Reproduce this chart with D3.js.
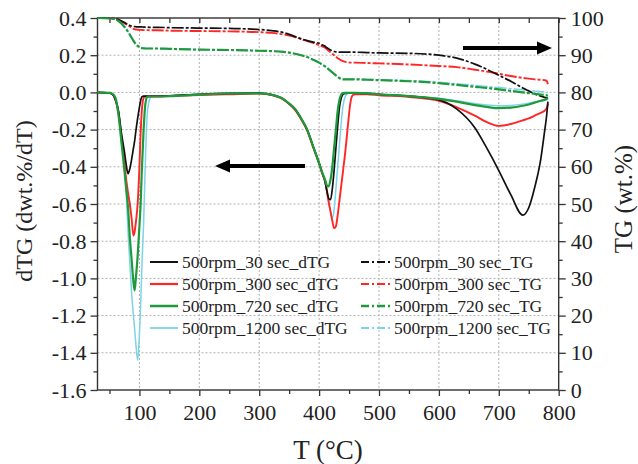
<!DOCTYPE html>
<html><head><meta charset="utf-8">
<script src="https://cdn.jsdelivr.net/npm/d3@7/dist/d3.min.js"></script>
<style>
body{margin:0;background:#fff;}
svg{display:block;font-family:"Liberation Serif","Times New Roman",serif;}
</style></head>
<body><svg id="c" width="638" height="464"></svg>
<script>
// Temperature grid (°C)
const T = [30,50,55,60,65,70,75,78,81,84,87,90,92,94,97,100,102,104,107,110,113,116,120,125,130,
  150,200,250,300,
  320,340,350,360,370,380,390,400,405,410,
  413,416,419,422,425,428,431,434,437,440,444,448,452,456,460,
  480,500,550,600,630,660,680,700,720,740,750,760,770,776,780,782];

// dTG series (dwt.%/dT)
const dtg30 = [0,-0.004,-0.01,-0.04,-0.1,-0.22,-0.32,-0.39,-0.437,-0.41,-0.36,-0.3,-0.26,-0.21,-0.14,-0.08,-0.045,-0.024,-0.02,-0.02,-0.02,-0.02,-0.02,-0.02,-0.02,
  -0.018,-0.01,-0.005,-0.004,
  -0.012,-0.035,-0.06,-0.09,-0.14,-0.2,-0.29,-0.38,-0.43,-0.48,
  -0.53,-0.57,-0.577,-0.52,-0.42,-0.3,-0.18,-0.08,-0.03,-0.01,-0.005,-0.004,-0.004,-0.004,-0.004,
  -0.005,-0.01,-0.02,-0.04,-0.09,-0.19,-0.3,-0.42,-0.55,-0.66,-0.62,-0.51,-0.36,-0.22,-0.12,-0.05];
const dtg300 = [0,-0.004,-0.01,-0.04,-0.11,-0.24,-0.38,-0.47,-0.54,-0.6,-0.68,-0.77,-0.75,-0.7,-0.6,-0.4,-0.22,-0.1,-0.03,-0.022,-0.022,-0.022,-0.022,-0.022,-0.022,
  -0.02,-0.014,-0.01,-0.006,
  -0.014,-0.038,-0.063,-0.095,-0.145,-0.205,-0.295,-0.385,-0.435,-0.48,
  -0.53,-0.59,-0.64,-0.69,-0.73,-0.72,-0.66,-0.58,-0.5,-0.42,-0.31,-0.18,-0.06,-0.015,-0.01,
  -0.01,-0.015,-0.025,-0.045,-0.08,-0.125,-0.16,-0.18,-0.17,-0.15,-0.14,-0.125,-0.11,-0.1,-0.085,-0.06];
const dtg720 = [0,-0.003,-0.008,-0.03,-0.12,-0.27,-0.42,-0.52,-0.62,-0.78,-0.9,-1.02,-1.065,-1.0,-0.88,-0.72,-0.6,-0.42,-0.2,-0.06,-0.025,-0.022,-0.022,-0.022,-0.022,
  -0.02,-0.012,-0.006,-0.005,
  -0.012,-0.035,-0.06,-0.09,-0.14,-0.2,-0.29,-0.38,-0.43,-0.47,
  -0.5,-0.505,-0.47,-0.4,-0.3,-0.2,-0.1,-0.04,-0.012,-0.004,-0.003,-0.003,-0.003,-0.003,-0.003,
  -0.005,-0.01,-0.02,-0.035,-0.05,-0.068,-0.078,-0.085,-0.082,-0.072,-0.065,-0.055,-0.045,-0.04,-0.035,-0.03];
const dtg1200 = [0,-0.003,-0.008,-0.03,-0.1,-0.24,-0.42,-0.55,-0.75,-0.92,-1.08,-1.2,-1.27,-1.35,-1.44,-1.3,-1.15,-0.95,-0.7,-0.36,-0.12,-0.05,-0.022,-0.02,-0.02,
  -0.018,-0.01,-0.005,-0.004,
  -0.012,-0.035,-0.06,-0.09,-0.14,-0.2,-0.29,-0.38,-0.43,-0.48,
  -0.53,-0.59,-0.64,-0.676,-0.63,-0.52,-0.4,-0.28,-0.16,-0.07,-0.02,-0.006,-0.004,-0.004,-0.004,
  -0.005,-0.01,-0.02,-0.032,-0.045,-0.06,-0.068,-0.072,-0.07,-0.063,-0.058,-0.052,-0.045,-0.042,-0.04,-0.035];

// TG series (wt.%)
const tg30 = [100,100,99.9,99.8,99.6,99.2,98.8,98.5,98.2,98.0,97.85,97.75,97.7,97.65,97.6,97.6,97.6,97.6,97.55,97.55,97.55,97.5,97.5,97.5,97.5,
  97.4,97.3,97.2,96.9,
  96.6,96.1,95.6,95.0,94.4,93.9,93.5,93.2,92.8,92.4,
  92.0,91.7,91.4,91.2,91.0,90.9,90.85,90.8,90.8,90.8,90.8,90.8,90.8,90.8,90.8,
  90.7,90.6,90.5,90.0,89.2,87.6,86.2,84.6,83.0,81.2,80.4,79.6,79.0,78.7,78.5,78.4];
const tg300 = [100,100,99.9,99.8,99.5,99.1,98.6,98.3,98.0,97.7,97.4,97.1,97.0,96.9,96.85,96.8,96.8,96.8,96.75,96.75,96.75,96.7,96.7,96.7,96.7,
  96.6,96.5,96.4,96.2,
  96.0,95.6,95.3,94.9,94.3,93.8,93.3,92.7,92.4,92.0,
  91.6,91.2,90.8,90.4,90.0,89.6,89.2,88.9,88.6,88.4,88.2,88.1,88.0,88.0,88.0,
  87.9,87.8,87.5,87.1,86.8,86.1,85.6,85.0,84.4,83.9,83.7,83.5,83.4,83.3,83.1,82.2];
const tg720 = [100,99.9,99.8,99.6,99.2,98.5,97.6,97.0,96.3,95.5,94.7,93.9,93.4,93.0,92.5,92.2,92.0,91.9,91.85,91.8,91.8,91.8,91.8,91.8,91.8,
  91.7,91.5,91.4,91.2,
  91.1,90.9,90.7,90.4,90.0,89.5,88.8,88.0,87.5,87.0,
  86.6,86.2,85.8,85.4,85.0,84.6,84.2,83.8,83.6,83.5,83.5,83.5,83.5,83.5,83.5,
  83.4,83.3,83.0,82.5,82.0,81.5,81.2,80.8,80.4,80.0,79.8,79.6,79.4,79.3,79.2,79.1];
const tg1200 = [100,99.9,99.8,99.6,99.2,98.5,97.7,97.1,96.4,95.6,94.8,94.0,93.5,93.1,92.6,92.3,92.1,92.0,91.9,91.85,91.8,91.8,91.8,91.8,91.8,
  91.7,91.5,91.4,91.2,
  91.1,90.9,90.7,90.4,90.0,89.5,88.8,88.0,87.5,87.0,
  86.6,86.2,85.8,85.4,85.0,84.6,84.2,83.9,83.7,83.6,83.6,83.6,83.6,83.6,83.6,
  83.5,83.4,83.2,82.7,82.3,81.9,81.6,81.3,81.0,80.7,80.5,80.4,80.2,80.1,80.0,80.0];

const xTicks = [100,200,300,400,500,600,700,800];
const xMinor = [50,150,250,350,450,550,650,750];
const yLTicks = [-1.6,-1.4,-1.2,-1.0,-0.8,-0.6,-0.4,-0.2,0.0,0.2,0.4];
const yLMinor = [-1.5,-1.3,-1.1,-0.9,-0.7,-0.5,-0.3,-0.1,0.1,0.3];
const yRTicks = [0,10,20,30,40,50,60,70,80,90,100];
const yRMinor = [5,15,25,35,45,55,65,75,85,95];

const names = ["500rpm_30 sec","500rpm_300 sec","500rpm_720 sec","500rpm_1200 sec"];
const colors = ["#111111","#ff2626","#1e9a3c","#7dd3e8"];
const dtgSeries = [dtg30,dtg300,dtg720,dtg1200];
const tgSeries = [tg30,tg300,tg720,tg1200];

const FONT = "'Liberation Serif','Times New Roman',serif";
const svg = d3.select("#c");
const L=97.5, R=558.7, Tp=18, B=390;
const x = d3.scaleLinear().domain([30,800]).range([L,R]);
const yL = d3.scaleLinear().domain([-1.6,0.4]).range([B,Tp]);
const yR = d3.scaleLinear().domain([0,100]).range([B,Tp]);

svg.append("rect").attr("width",638).attr("height",464).attr("fill","#fff");

// grid
const grid = svg.append("g").attr("stroke","#b0b0b0").attr("stroke-width",1).attr("stroke-dasharray","2,2");
xTicks.filter(d=>d<800).forEach(d=>grid.append("line").attr("x1",x(d)).attr("x2",x(d)).attr("y1",Tp).attr("y2",B));
yLTicks.filter(d=>d>-1.6&&d<0.4).forEach(d=>grid.append("line").attr("x1",L).attr("x2",R).attr("y1",yL(d)).attr("y2",yL(d)));

// axes
function styleAxis(g){g.select(".domain").remove();g.attr("font-family",FONT);
  g.selectAll("line").attr("stroke","#333").attr("stroke-width",1.3);
  g.selectAll("text").attr("fill","#222").style("font-family",FONT);}
const fmt1 = d=>d.toFixed(1);
svg.append("g").attr("transform",`translate(0,${B})`).call(d3.axisBottom(x).tickValues(xTicks).tickSize(6).tickPadding(8).tickSizeOuter(0)).call(styleAxis).selectAll("text").style("font-size","22px");
svg.append("g").attr("transform",`translate(0,${B})`).call(d3.axisBottom(x).tickValues(xMinor).tickSize(4).tickFormat("")).call(styleAxis);
svg.append("g").attr("transform",`translate(0,${Tp})`).call(d3.axisTop(x).tickValues(xTicks.concat(xMinor)).tickSize(-5).tickFormat("")).call(styleAxis);
svg.append("g").attr("transform",`translate(${L},0)`).call(d3.axisLeft(yL).tickValues(yLTicks).tickSize(7).tickPadding(4).tickFormat(fmt1)).call(styleAxis).selectAll("text").style("font-size","22px");
svg.append("g").attr("transform",`translate(${L},0)`).call(d3.axisLeft(yL).tickValues(yLMinor).tickSize(4).tickFormat("")).call(styleAxis);
svg.append("g").attr("transform",`translate(${R},0)`).call(d3.axisRight(yR).tickValues(yRTicks).tickSize(7).tickPadding(5)).call(styleAxis).selectAll("text").style("font-size","22px");
svg.append("g").attr("transform",`translate(${R},0)`).call(d3.axisRight(yR).tickValues(yRMinor).tickSize(4).tickFormat("")).call(styleAxis);

svg.append("rect").attr("x",L).attr("y",Tp).attr("width",R-L).attr("height",B-Tp).attr("fill","none").attr("stroke","#333").attr("stroke-width",1.4);

// lines
const lineL = d3.line().x((d,i)=>x(T[i])).y(d=>yL(d)).curve(d3.curveMonotoneX);
const lineR = d3.line().x((d,i)=>x(T[i])).y(d=>yR(d)).curve(d3.curveMonotoneX);
const widths = [1.7,1.9,2.2,1.5];
const order = [3,1,0,2];
order.forEach(i=>{
  svg.append("path").attr("d",lineR(tgSeries[i])).attr("fill","none").attr("stroke",colors[i]).attr("stroke-width",widths[i]).attr("stroke-dasharray","12,2,3,2");
});
order.forEach(i=>{
  svg.append("path").attr("d",lineL(dtgSeries[i])).attr("fill","none").attr("stroke",colors[i]).attr("stroke-width",widths[i]);
});

// legend
const lg = svg.append("g").style("font-size","17.5px").style("font-family",FONT).attr("fill","#222");
const rowY = [262,284,306,328];
names.forEach((n,i)=>{
  lg.append("line").attr("x1",150).attr("x2",178).attr("y1",rowY[i]).attr("y2",rowY[i]).attr("stroke",colors[i]).attr("stroke-width",widths[i]+0.3);
  lg.append("text").attr("x",182).attr("y",rowY[i]).attr("dy","0.33em").text(n+"_dTG");
  lg.append("line").attr("x1",361).attr("x2",390).attr("y1",rowY[i]).attr("y2",rowY[i]).attr("stroke",colors[i]).attr("stroke-width",widths[i]+0.3).attr("stroke-dasharray","8,3,2,3");
  lg.append("text").attr("x",394).attr("y",rowY[i]).attr("dy","0.33em").text(n+"_TG");
});

// arrows
function arrow(x1,x2,y){
  const dir = x2>x1?1:-1;
  svg.append("line").attr("x1",x1).attr("x2",x2-dir*12).attr("y1",y).attr("y2",y).attr("stroke","#000").attr("stroke-width",4);
  svg.append("path").attr("d",`M${x2},${y} L${x2-dir*15},${y-6.5} L${x2-dir*15},${y+6.5} Z`).attr("fill","#000");
}
arrow(305,215,166);
arrow(463,552,48);

// axis titles
svg.append("text").attr("x",328).attr("y",459).attr("text-anchor","middle").style("font-family",FONT).style("font-size","27px").attr("fill","#222").text("T (°C)");
svg.append("text").attr("transform","translate(32,201) rotate(-90)").attr("text-anchor","middle").style("font-family",FONT).style("font-size","24px").attr("fill","#222").text("dTG (dwt.%/dT)");
svg.append("text").attr("transform","translate(632,199) rotate(-90)").attr("text-anchor","middle").style("font-family",FONT).style("font-size","25px").attr("fill","#222").text("TG (wt.%)");
</script>
</body></html>
